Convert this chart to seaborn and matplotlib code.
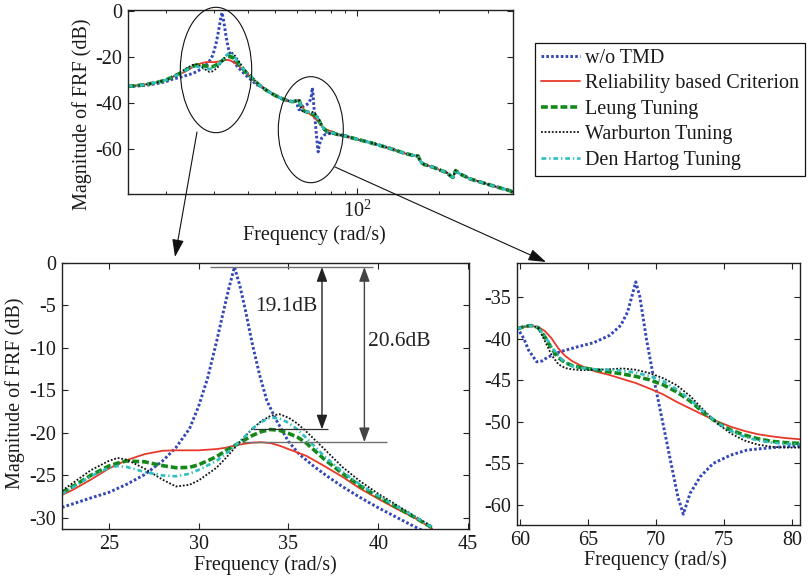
import numpy as np
import pandas as pd
import seaborn as sns
import matplotlib.pyplot as plt
from matplotlib import ticker
from matplotlib.patches import Ellipse, FancyArrowPatch

# ---------------------------------------------------------------- data
SERIES = ["w/o TMD", "Reliability based Criterion", "Leung Tuning",
          "Warburton Tuning", "Den Hartog Tuning"]

# first mode window (rad/s, dB)
f_m1 = [22.4, 23, 24, 25, 25.5, 26, 27, 28, 28.75, 29.5, 30, 31, 31.5, 32,
        32.5, 33, 33.5, 34, 34.5, 35, 35.5, 36, 37, 38, 39, 40, 41, 42, 43]
rel_m1 = [-27.3, -26.7, -25.5, -24.2, -23.7, -23.2, -22.5, -22.1, -22.05,
          -22.05, -22.05, -21.9, -21.75, -21.5, -21.3, -21.15, -21.1, -21.2,
          -21.5, -21.9, -22.3, -22.7, -23.9, -25.15, -26.55, -27.75, -28.9,
          -29.95, -31.25]
leung_m1 = [-27.0, -26.3, -25.0, -23.9, -23.55, -23.3, -23.4, -23.85, -24.1,
            -24.05, -23.75, -22.8, -22.1, -21.5, -20.9, -20.3, -19.85, -19.6,
            -19.7, -20.05, -20.5, -21.2, -23.1, -24.75, -26.25, -27.5, -28.7,
            -29.9, -31.15]
warb_m1 = [-26.8, -25.9, -24.4, -23.3, -22.95, -23.15, -24.2, -25.5, -26.3,
           -26.1, -25.6, -24.1, -23.0, -21.8, -20.6, -19.5, -18.6, -18.0,
           -17.8, -18.2, -18.9, -19.85, -21.9, -24.0, -25.7, -27.15, -28.45,
           -29.75, -31.0]
denh_m1 = [-27.2, -26.4, -25.1, -24.1, -23.9, -24.0, -24.6, -25.0, -25.1,
           -24.8, -24.35, -23.3, -22.5, -21.6, -20.6, -19.5, -18.7, -18.2,
           -18.3, -18.8, -19.6, -20.6, -22.75, -24.55, -26.1, -27.4, -28.6,
           -29.8, -31.1]
f_wo_m1 = [22.4, 23, 24, 25, 26, 27, 28, 28.75, 29.5, 30, 30.5, 31, 31.4,
           31.7, 32.0, 32.3, 32.6, 33.0, 33.4, 33.8, 34.3, 35, 35.6, 36.4,
           37.1, 38, 39, 40, 41, 42, 43]
wo_m1 = [-28.75, -28.35, -27.65, -27.0, -26.05, -24.9, -23.3, -21.7, -19.5,
         -16.9, -13.6, -9.3, -5.6, -2.9, -0.5, -2.7, -5.5, -9.6, -13.2, -16.2,
         -18.4, -21.0, -22.5, -23.9, -25.0, -26.3, -27.6, -28.8, -29.9, -31.0,
         -32.0]

# second mode window
f_m2 = [59.75, 60.3, 60.8, 61.3, 61.8, 62.3, 62.8, 63.3, 63.8, 64.5, 65.5,
        66.5, 67.5, 68.5, 69.5, 70.5, 71.5, 72.5, 73.5, 74.5, 75.5, 76.5,
        77.5, 78.5, 79.5, 80.6]
rel_m2 = [-38.85, -38.6, -38.5, -38.6, -39.1, -40.0, -41.2, -42.1, -42.7,
          -43.3, -43.95, -44.35, -44.85, -45.35, -46.0, -46.7, -47.6, -48.4,
          -49.2, -49.95, -50.6, -51.1, -51.5, -51.75, -51.95, -52.1]
leung_m2 = [-38.85, -38.55, -38.45, -38.7, -39.8, -41.2, -42.3, -42.9, -43.25,
            -43.5, -43.75, -44.0, -44.25, -44.55, -44.95, -45.55, -46.4, -47.5,
            -48.9, -50.1, -51.0, -51.6, -52.05, -52.35, -52.5, -52.6]
warb_m2 = [-38.85, -38.55, -38.45, -38.7, -40.3, -42.0, -43.1, -43.55, -43.7,
           -43.8, -43.75, -43.7, -43.6, -43.75, -44.15, -44.75, -45.6, -46.9,
           -48.6, -50.2, -51.4, -52.25, -52.75, -53.0, -53.1, -53.1]
denh_m2 = [-38.85, -38.55, -38.45, -38.7, -39.7, -41.0, -42.1, -42.9, -43.3,
           -43.55, -43.7, -43.75, -43.85, -44.1, -44.5, -45.1, -46.1, -47.3,
           -48.8, -50.1, -51.1, -51.8, -52.25, -52.5, -52.65, -52.7]
f_wo_m2 = [59.75, 60.25, 60.6, 61.2, 61.6, 62.0, 62.9, 64.2, 65.4, 66.6, 67.4,
           67.9, 68.2, 68.5, 68.8, 69.3, 69.8, 70.3, 71.0, 71.6, 72.0, 72.5,
           73.25, 74.2, 75.5, 76.7, 77.9, 79.4, 80.6]
wo_m2 = [-38.7, -40.0, -41.4, -42.8, -42.7, -42.25, -41.6, -41.0, -40.5,
         -39.6, -38.4, -36.8, -35.0, -33.2, -35.0, -40.2, -44.6, -48.6, -54.2,
         -59.0, -61.1, -58.6, -56.6, -55.0, -54.0, -53.4, -53.2, -53.0, -52.9]

# broadband response shared by all cases outside the two windows
f_band_lo = [14.5, 15.5, 17, 18.5, 20, 21.2]
band_lo = [-32.6, -32.3, -31.7, -30.9, -29.8, -28.4]
wo_band_lo = [-32.7, -32.5, -32.1, -31.4, -30.5, -29.4]
f_band_mid = [44, 46, 48, 50, 52, 54, 56, 57.5, 58.7]
band_mid = [-32.2, -33.9, -35.3, -36.5, -37.5, -38.3, -38.9, -39.2, -39.2]
f_band_hi = [85, 90, 95, 100, 112, 132, 150, 160, 167, 171, 176, 190, 201,
             212, 220, 224, 229, 237, 260, 307, 363, 371.5]
band_hi = [-53.6, -54.1, -54.9, -55.6, -57.1, -59.6, -61.8, -62.6, -62.9,
           -65.6, -66.6, -67.8, -69.0, -70.0, -71.6, -72.2, -69.2, -70.6,
           -72.9, -75.5, -78.0, -78.7]

window1 = {"w/o TMD": (f_wo_m1, wo_m1),
           "Reliability based Criterion": (f_m1, rel_m1),
           "Leung Tuning": (f_m1, leung_m1),
           "Warburton Tuning": (f_m1, warb_m1),
           "Den Hartog Tuning": (f_m1, denh_m1)}
window2 = {"w/o TMD": (f_wo_m2, wo_m2),
           "Reliability based Criterion": (f_m2, rel_m2),
           "Leung Tuning": (f_m2, leung_m2),
           "Warburton Tuning": (f_m2, warb_m2),
           "Den Hartog Tuning": (f_m2, denh_m2)}

STYLE = {
    "w/o TMD": dict(color="#3347b8", ls=(0, (0.9, 0.75)), lw=2.1),
    "Reliability based Criterion": dict(color="#e8392a", ls="-", lw=1.3),
    "Leung Tuning": dict(color="#14891a", ls=(0, (1.9, 0.8)), lw=2.6),
    "Warburton Tuning": dict(color="#111111", ls=(0, (1.0, 1.0)), lw=1.3),
    "Den Hartog Tuning": dict(color="#2ebfc0", ls=(0, (1.8, 1.1, 0.5, 1.1)), lw=1.9),
}

# ---------------------------------------------------------------- style
sns.set_theme(style="ticks")
plt.rcParams["font.family"] = ["Liberation Serif", "DejaVu Serif"]
plt.rcParams["mathtext.fontset"] = "custom"
plt.rcParams["mathtext.rm"] = "Liberation Serif"
plt.rcParams["axes.unicode_minus"] = False
FS = 14.5

W, H = 808, 580


def fig_xy(x, y):
    return (x / W, 1 - y / H)


fig = plt.figure(figsize=(W / 100, H / 100), dpi=100)
ax_top = fig.add_axes([0.1584, 0.6647, 0.4765, 0.3181])
ax_l = fig.add_axes([0.0767, 0.0879, 0.5037, 0.4591])
ax_r = fig.add_axes([0.6399, 0.0948, 0.3502, 0.4522])


def draw(ax, freq, vals, name):
    st = STYLE[name]
    sns.lineplot(x=freq, y=vals, ax=ax, color=st["color"], linestyle=st["ls"],
                 linewidth=st["lw"], sort=False, estimator=None, errorbar=None,
                 legend=False)


def build_top(name):
    if name == "w/o TMD":
        lo = wo_band_lo
    else:
        lo = band_lo
    f1, v1 = window1[name]
    f2, v2 = window2[name]
    freq = f_band_lo + list(f1) + f_band_mid + list(f2) + f_band_hi
    vals = lo + list(v1) + band_mid + list(v2) + band_hi
    return freq, vals


for name in SERIES:
    draw(ax_top, *build_top(name), name)
    draw(ax_l, *window1[name], name)
    draw(ax_r, *window2[name], name)


def style_axes(ax):
    for sp in ax.spines.values():
        sp.set_visible(True)
        sp.set_linewidth(1.0)
        sp.set_color("#222222")
    ax.tick_params(which="major", direction="in", top=True, right=True,
                   length=4, width=0.8, labelsize=FS, pad=4, color="#222222",
                   labelcolor="#1a1a1a")
    ax.tick_params(which="minor", direction="in", top=True, right=True,
                   length=2.5, width=0.7, color="#222222")
    ax.set_xlabel("Frequency (rad/s)", fontsize=FS, color="#1a1a1a")


# top: broadband FRF on a log axis
ax_top.set_xscale("log")
ax_top.set_xlim(14.5, 371.5)
ax_top.set_ylim(-79.6, 0.6)
ax_top.xaxis.set_major_locator(ticker.FixedLocator([100]))
ax_top.xaxis.set_major_formatter(ticker.FuncFormatter(lambda v, p: r"$10^{2}$"))
ax_top.xaxis.set_minor_locator(ticker.LogLocator(base=10, subs=np.arange(2, 10)))
ax_top.xaxis.set_minor_formatter(ticker.NullFormatter())
ax_top.set_yticks([0, -20, -40, -60])
style_axes(ax_top)
ax_top.set_ylabel("Magnitude of FRF (dB)", fontsize=FS, color="#1a1a1a")
ax_top.yaxis.set_label_coords(-0.0935, 0.436)
ax_top.xaxis.set_label_coords(0.483, -0.165)

# bottom left: first mode
ax_l.set_xlim(22.4, 45.05)
ax_l.set_ylim(-31.3, 0)
ax_l.set_xticks([25, 30, 35, 40, 45])
ax_l.set_yticks([0, -5, -10, -15, -20, -25, -30])
style_axes(ax_l)
ax_l.set_ylabel("Magnitude of FRF (dB)", fontsize=FS, color="#1a1a1a")
ax_l.yaxis.set_label_coords(-0.091, 0.511)
ax_l.xaxis.set_label_coords(0.50, -0.098)

# bottom right: second mode
ax_r.set_xlim(59.75, 80.6)
ax_r.set_ylim(-62.4, -30.9)
ax_r.set_xticks([60, 65, 70, 75, 80])
ax_r.set_yticks([-35, -40, -45, -50, -55, -60])
style_axes(ax_r)
ax_r.set_ylabel("")
ax_r.xaxis.set_label_coords(0.49, -0.095)

# peak reductions
peak_wo = max(wo_m1)
peak_leung = max(leung_m1)
peak_rel = max(rel_m1)
ax_l.hlines(peak_wo, 30.63, 39.72, color="#707070", lw=1.0)
ax_l.hlines(peak_leung, 33.05, 37.2, color="#303030", lw=0.9)
ax_l.hlines(peak_rel, 32.4, 40.5, color="#707070", lw=1.0)
ax_l.annotate("", xy=(36.87, peak_leung), xytext=(36.87, peak_wo),
              arrowprops=dict(arrowstyle="<|-|>,head_length=0.6,head_width=0.22",
                              color="#222222", lw=1.0, shrinkA=0, shrinkB=0),
              fontsize=FS)
ax_l.annotate("", xy=(39.23, peak_rel), xytext=(39.23, peak_wo),
              arrowprops=dict(arrowstyle="<|-|>,head_length=0.6,head_width=0.22",
                              color="#444444", lw=1.0, shrinkA=0, shrinkB=0),
              fontsize=FS)
ax_l.text(33.14, -5.2, f"{peak_wo - peak_leung:.1f}dB", fontsize=FS + 1,
          ha="left", va="center", color="#222222")
ax_l.text(39.44, -9.3, f"{peak_wo - peak_rel:.1f}dB", fontsize=FS + 1,
          ha="left", va="center", color="#222222")

# zoom markers linking the overview to the detail panels
for cx, cy, w, h in [(216, 70, 71.4, 125.4), (310.8, 129.7, 65, 106)]:
    fig.add_artist(Ellipse(fig_xy(cx, cy), w / W, h / H, transform=fig.transFigure,
                           fill=False, edgecolor="#111111", lw=0.8))
for (x0, y0), (x1, y1) in [((197, 132), (175, 257)), ((335, 167), (546, 262))]:
    fig.add_artist(FancyArrowPatch(fig_xy(x0, y0), fig_xy(x1, y1),
                                   transform=fig.transFigure,
                                   arrowstyle="-|>,head_length=0.9,head_width=0.3",
                                   mutation_scale=12, color="#111111", lw=0.8,
                                   shrinkA=0, shrinkB=0))

# legend
handles = ax_top.get_lines()[:len(SERIES)]
fig.legend(handles, SERIES, loc="upper left", bbox_to_anchor=fig_xy(535, 42.7),
           bbox_transform=fig.transFigure, fontsize=FS, frameon=True,
           fancybox=False, framealpha=1, edgecolor="#111111", borderpad=0.3,
           labelspacing=0.32, handlelength=1.95, handletextpad=0.25,
           borderaxespad=0)
leg = fig.legends[0]
leg.get_frame().set_linewidth(0.9)
for t in leg.get_texts():
    t.set_color("#1a1a1a")

fig.savefig("out.png", dpi=100)
